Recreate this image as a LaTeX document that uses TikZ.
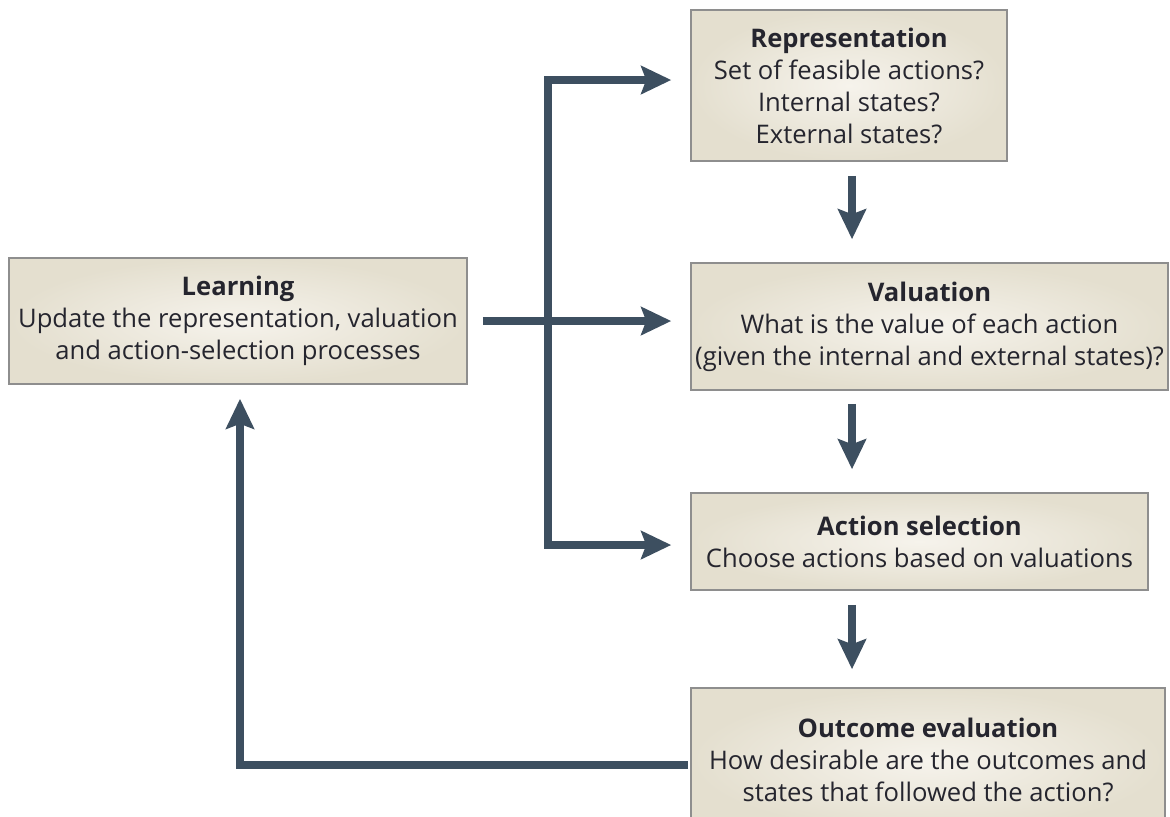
\documentclass[tikz,border=0pt]{standalone}
\usepackage{fontspec}
\setmainfont{Open Sans}
\usetikzlibrary{arrows.meta}
\definecolor{arrowc}{HTML}{3D4F60}
\definecolor{boxin}{HTML}{F6F3EC}
\definecolor{boxout}{HTML}{E4DFCF}
\definecolor{boxline}{HTML}{8E8E8E}
\definecolor{txt}{HTML}{25252E}
\tikzset{
  box/.style={draw=boxline, line width=0.8pt, shading=radial, inner color=boxin, outer color=boxout,
    align=center, text=txt, inner sep=0pt, font=\fontsize{12.8}{16}\selectfont},
  arr/.style={draw=arrowc, line width=3.6pt, line join=miter,
    -{Stealth[length=15pt,width=14pt,inset=2.5pt]}}
}
\begin{document}
\begin{tikzpicture}[x=0.5pt,y=-0.5pt]
\useasboundingbox (0,0) rectangle (1170,816);
\node[box, minimum width=229pt, minimum height=63pt] (learn) at (238,321)
  {\textbf{Learning}\\Update the representation, valuation\\and action-selection processes};
\node[box, minimum width=158pt, minimum height=75.5pt] (rep) at (849,85.5)
  {\textbf{Representation}\\Set of feasible actions?\\Internal states?\\External states?};
\node[box, minimum width=238.5pt, minimum height=63.5pt] (val) at (929.5,326.5)
  {\textbf{Valuation}\\What is the value of each action\\(given the internal and external states)?};
\node[box, minimum width=228.5pt, minimum height=48.5pt] (act) at (919.5,541.5)
  {\textbf{Action selection}\\Choose actions based on valuations};
\node[box, minimum width=237pt, minimum height=72pt] (out) at (928,760)
  {\textbf{Outcome evaluation}\\How desirable are the outcomes and\\states that followed the action?};
\coordinate (j) at (548,321);
\coordinate (fb) at (688,765);
% vertical chain
\draw[arr] ([yshift=-7pt]rep.south -| 852,0) -- ([yshift=11.5pt]val.north -| 852,0);
\draw[arr] ([yshift=-6.5pt]val.south -| 852,0) -- ([yshift=11.5pt]act.north -| 852,0);
\draw[arr] ([yshift=-7pt]act.south -| 852,0) -- ([yshift=9pt]out.north -| 852,0);
% learning to processes
\draw[arr] ([xshift=7.5pt]learn.east) -- ([xshift=-9.5pt]learn.east -| val.west);
\draw[arr] (j) |- ([xshift=-9.5pt,yshift=2.75pt]rep.west);
\draw[arr] (j) |- ([xshift=-9.5pt,yshift=-1.75pt]act.west);
% feedback
\draw[arr] (fb) -| ([xshift=1pt,yshift=-7pt]learn.south);
\end{tikzpicture}
\end{document}
